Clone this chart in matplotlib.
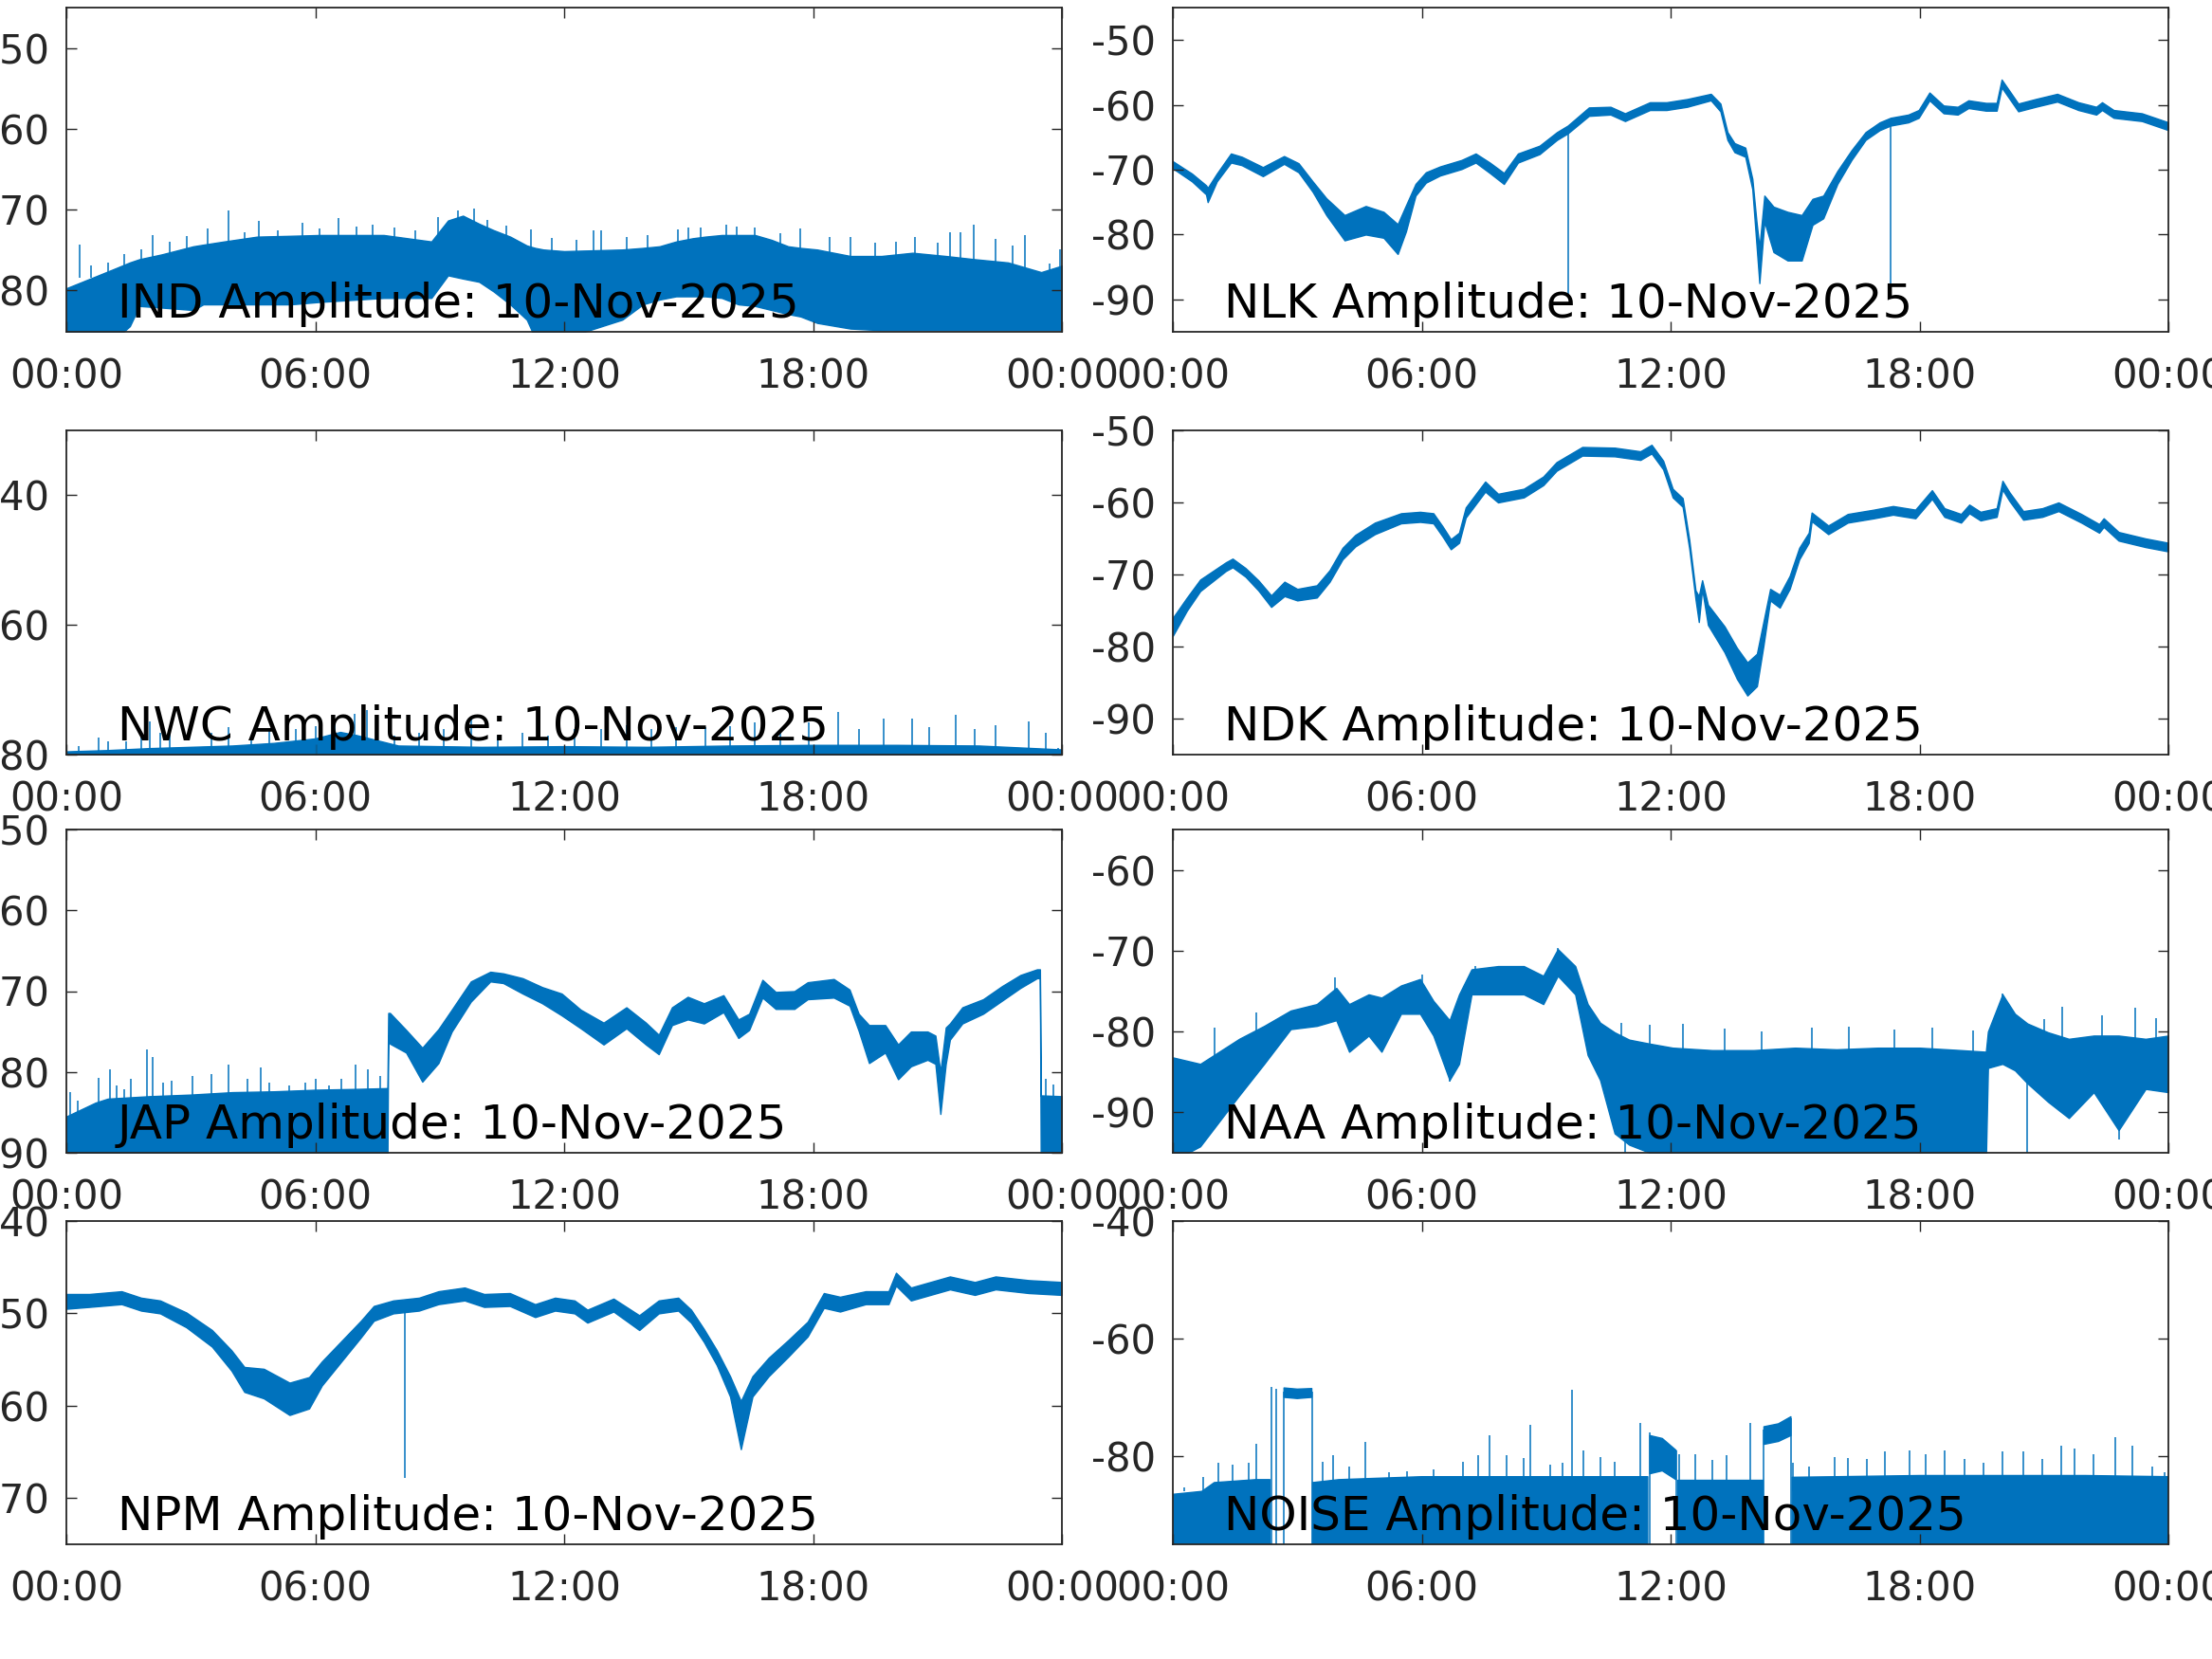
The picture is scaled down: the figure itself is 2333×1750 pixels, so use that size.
import numpy as np
import matplotlib
matplotlib.use("Agg")
import matplotlib.pyplot as plt

BLUE = "#0072BD"
DARK = "#262626"

plt.rcParams["font.family"] = ["DejaVu Sans"]
plt.rcParams["axes.unicode_minus"] = False

# x axis ticks (hours of the day)
hour_ticks = [0, 6, 12, 18, 24]
hour_labels = ["00:00", "06:00", "12:00", "18:00", "00:00"]
date_label = "10-Nov-2025"

# ---------------- IND ----------------
ind_hours = [0, 0.77, 1.2, 1.53, 1.76, 2.3, 3.06, 3.3, 3.8, 4.6, 5.4, 6.1, 7.65,
             8.8, 9.2, 9.56, 9.95, 10.3, 10.7, 11.1, 11.3, 11.5, 12, 13.4, 13.9,
             14.3, 14.7, 15.1, 15.4, 15.8, 16.2, 16.6, 17.0, 17.4, 17.7, 18.1,
             18.9, 19.65, 20.4, 21.2, 21.9, 22.7, 23.5, 24]
ind_low = [-86, -86, -86, -84.5, -82.0, -82.2, -82.5, -81.8, -81.8, -81.8, -81.8,
           -81.5, -81.0, -81.0, -78.2, -78.6, -79.0, -80.2, -81.8, -83.7, -86, -86,
           -86, -83.7, -81.8, -81.2, -80.8, -80.8, -80.8, -81.0, -81.8, -82.0,
           -82.5, -83.0, -83.3, -84.1, -84.8, -85.0, -85.0, -85.0, -85.0, -85.0,
           -85.0, -85.0]
ind_high = [-79.8, -78.2, -77.3, -76.6, -76.2, -75.6, -74.6, -74.4, -74.0, -73.4,
            -73.3, -73.2, -73.2, -74.0, -71.4, -70.8, -71.8, -72.6, -73.4, -74.5,
            -74.8, -75.0, -75.2, -75.0, -74.8, -74.6, -74.0, -73.6, -73.4, -73.2,
            -73.2, -73.2, -73.8, -74.6, -74.8, -75.0, -75.8, -75.8, -75.4, -75.8,
            -76.2, -76.6, -77.8, -77.0]
ind_spike_hours = [0.32, 0.6, 1.0, 1.4, 1.8, 2.07, 2.5, 2.9, 3.4, 3.9, 4.3, 4.63,
                   5.1, 5.7, 6.1, 6.56, 7.0, 7.38, 7.9, 8.4, 8.97, 9.43, 9.83,
                   10.15, 10.6, 11.2, 11.7, 12.3, 12.7, 12.9, 13.5, 14.0, 14.75,
                   15.0, 15.3, 15.9, 16.15, 16.6, 17.2, 17.7, 18.4, 18.9, 19.5,
                   20.0, 20.45, 21.0, 21.3, 21.55, 21.87, 22.4, 22.8, 23.1, 23.7,
                   23.96]
ind_spike_tops = [-74.4, -77.0, -76.6, -75.6, -75.0, -73.2, -74.0, -73.3, -72.4,
                  -70.2, -72.8, -71.5, -72.6, -71.7, -72.4, -71.1, -72.2, -71.9,
                  -72.3, -72.6, -71.0, -70.2, -69.9, -71.3, -72.0, -72.5, -73.6,
                  -73.8, -72.6, -72.6, -73.5, -73.2, -72.5, -72.3, -72.3, -71.9,
                  -72.2, -72.3, -73.0, -72.4, -73.5, -73.5, -74.2, -74.0, -73.4,
                  -74.2, -72.8, -72.8, -71.9, -73.7, -74.5, -73.2, -76.7, -75.0]
ind_spike_base = -78.5

# ---------------- NLK ----------------
nlk_hours = [0, 0.46, 0.8, 0.84, 1.06, 1.4, 1.66, 2.17, 2.68, 3.03, 3.37, 3.7,
             4.14, 4.65, 5.08, 5.42, 5.62, 5.85, 6.1, 6.44, 6.96, 7.3, 7.64, 7.98,
             8.32, 8.84, 9.26, 9.52, 10.03, 10.55, 10.9, 11.5, 11.9, 12.4, 12.97,
             13.2, 13.37, 13.54, 13.8, 13.97, 14.07, 14.14, 14.26, 14.48, 14.82,
             15.16, 15.42, 15.68, 16.02, 16.36, 16.7, 17.04, 17.3, 17.73, 17.98,
             18.24, 18.58, 18.92, 19.18, 19.6, 19.86, 19.98, 20.38, 20.8, 21.32,
             21.83, 22.26, 22.4, 22.68, 23.36, 24]
nlk_low = [-69.8, -71.8, -73.8, -75.0, -71.8, -68.9, -69.3, -71.0, -69.1, -70.4,
           -73.4, -77.0, -80.9, -80.0, -80.5, -83.0, -79.5, -74.0, -72.0, -70.9,
           -69.9, -68.9, -70.5, -72.2, -68.9, -67.6, -65.4, -64.4, -61.7, -61.5,
           -62.5, -60.8, -60.8, -60.3, -59.3, -61.0, -65.4, -67.3, -68.0, -73.0,
           -81.5, -87.5, -78.0, -82.7, -84.0, -84.0, -78.5, -77.5, -72.2, -68.5,
           -65.4, -63.9, -63.2, -62.7, -62.0, -59.3, -61.3, -61.5, -60.5, -60.9,
           -60.9, -57.3, -61.0, -60.3, -59.5, -60.8, -61.5, -60.8, -62.0, -62.5,
           -63.9]
nlk_high = [-68.7, -70.6, -72.4, -72.8, -70.6, -67.5, -68.0, -69.6, -67.9, -69.0,
            -71.8, -74.4, -77.0, -75.6, -76.5, -78.4, -75.5, -72.2, -70.4, -69.5,
            -68.5, -67.5, -68.9, -70.5, -67.5, -66.3, -64.2, -63.2, -60.4, -60.3,
            -61.3, -59.6, -59.6, -59.1, -58.3, -59.8, -64.2, -65.9, -66.6, -71.4,
            -78.0, -82.0, -74.0, -75.7, -76.5, -77.0, -74.5, -74.0, -70.2, -67.0,
            -64.2, -62.7, -62.0, -61.5, -60.8, -58.1, -60.1, -60.3, -59.3, -59.7,
            -59.7, -56.1, -59.8, -59.1, -58.3, -59.6, -60.3, -59.6, -60.8, -61.3,
            -62.7]
nlk_spike_hours = [9.52, 17.3]
nlk_spike_from = [-89.3, -89.3]
nlk_spike_to = [-64.0, -62.8]

# ---------------- NWC ----------------
nwc_hours = [0, 1, 2, 3, 4, 5, 6, 6.6, 7, 7.5, 8, 10, 12, 14, 16, 18, 20, 22, 24]
nwc_low = [-81] * 19
nwc_high = [-79.5, -79.3, -79.0, -78.8, -78.6, -78.2, -77.5, -76.5, -77.0, -77.8,
            -78.6, -78.8, -78.7, -78.8, -78.6, -78.5, -78.5, -78.6, -79.2]
nwc_spike_hours = [0.3, 0.78, 1.0, 1.45, 1.8, 2.0, 2.26, 2.5, 3.1, 3.5, 3.9, 4.45,
                   4.9, 5.54, 6.0, 6.47, 6.94, 7.25, 7.5, 7.9, 8.5, 9.1, 9.75,
                   10.4, 11.0, 11.6, 12.25, 12.9, 13.5, 14.1, 14.7, 15.4, 16.0,
                   16.6, 17.2, 17.9, 18.6, 19.1, 19.7, 20.4, 20.8, 21.45, 21.9,
                   22.4, 23.2, 23.6, 23.9]
nwc_spike_tops = [-78.7, -77.3, -78.0, -78.0, -76.6, -74.9, -76.6, -76.1, -78.9,
                  -76.6, -75.8, -77.6, -76.1, -76.1, -75.6, -74.6, -73.7, -73.2,
                  -74.6, -77.1, -76.6, -76.1, -74.6, -77.1, -76.6, -77.1, -76.1,
                  -76.1, -75.4, -76.1, -75.8, -75.8, -75.6, -75.1, -76.6, -75.1,
                  -73.4, -76.1, -74.4, -74.4, -75.8, -73.9, -76.1, -75.4, -74.9,
                  -76.6, -79.0]
nwc_spike_base = -80.5

# ---------------- NDK ----------------
ndk_hours = [0, 0.34, 0.66, 1.28, 1.44, 1.75, 2.06, 2.37, 2.69, 3.0, 3.47, 3.78,
             4.09, 4.4, 4.87, 5.5, 5.96, 6.28, 6.5, 6.7, 6.9, 7.06, 7.53, 7.84,
             8.46, 8.93, 9.25, 9.87, 10.65, 11.27, 11.54, 11.82, 12.05, 12.29,
             12.45, 12.6, 12.68, 12.76, 12.9, 13.3, 13.6, 13.85, 14.08, 14.24,
             14.4, 14.63, 14.87, 15.1, 15.33, 15.4, 15.8, 16.27, 16.9, 17.36,
             17.9, 18.3, 18.6, 19.0, 19.2, 19.47, 19.86, 20.0, 20.17, 20.5, 20.96,
             21.35, 21.9, 22.33, 22.44, 22.8, 23.45, 24]
ndk_low = [-78.5, -75.0, -72.3, -69.5, -69.0, -70.3, -72.2, -74.5, -73.0, -73.6,
           -73.2, -71.0, -67.9, -66.1, -64.4, -62.9, -62.7, -62.9, -64.7, -66.5,
           -65.6, -62.1, -58.5, -60.0, -59.3, -57.6, -55.6, -53.5, -53.6, -54.1,
           -53.2, -55.4, -59.3, -60.6, -66.4, -73.4, -76.6, -72.0, -77.0, -80.8,
           -84.5, -86.8, -85.5, -79.8, -73.6, -74.6, -72.0, -67.9, -65.6, -62.6,
           -64.4, -62.8, -62.2, -61.7, -62.2, -59.5, -62.0, -62.8, -61.5, -62.5,
           -62.0, -58.2, -59.8, -62.4, -62.0, -61.2, -62.8, -64.2, -63.4, -65.3,
           -66.2, -66.8]
ndk_high = [-76.0, -73.2, -70.7, -68.3, -67.8, -69.1, -70.8, -72.9, -71.0, -72.0,
            -71.5, -69.4, -66.3, -64.5, -62.8, -61.5, -61.3, -61.5, -63.3, -65.1,
            -64.2, -60.7, -57.1, -58.8, -58.1, -56.4, -54.4, -52.3, -52.4, -52.9,
            -52.0, -54.2, -58.1, -59.4, -65.2, -72.2, -73.0, -70.8, -74.2, -77.2,
            -80.2, -82.2, -81.0, -76.5, -72.0, -72.8, -70.2, -66.3, -64.2, -61.4,
            -63.2, -61.6, -61.0, -60.5, -61.0, -58.3, -60.8, -61.6, -60.3, -61.3,
            -60.8, -57.0, -58.6, -61.2, -60.8, -60.0, -61.6, -63.0, -62.2, -64.1,
            -65.0, -65.6]

# ---------------- JAP ----------------
jap_hours = [0, 0.7, 1, 2, 3, 4, 5, 6, 7, 7.74, 7.76, 7.8, 8.19, 8.58, 8.97, 9.29,
             9.75, 10.22, 10.53, 11.0, 11.47, 11.94, 12.4, 12.95, 13.5, 13.97,
             14.28, 14.6, 14.98, 15.37, 15.84, 16.2, 16.46, 16.78, 17.1, 17.55,
             17.87, 18.5, 18.88, 19.1, 19.35, 19.74, 20.05, 20.36, 20.76, 20.95,
             21.07, 21.2, 21.3, 21.6, 22.1, 22.55, 23.0, 23.4, 23.47, 23.49, 24]
jap_low = [-91, -91, -91, -91, -91, -91, -91, -91, -91, -91, -75.5, -76.5, -77.6,
           -81.2, -78.9, -75.0, -71.3, -68.8, -69.0, -70.3, -71.5, -73.0, -74.6,
           -76.6, -74.6, -76.6, -77.8, -74.2, -73.5, -74.0, -72.6, -75.8, -74.8,
           -70.8, -72.2, -72.2, -71.0, -70.8, -71.8, -74.9, -78.9, -77.6, -80.9,
           -79.3, -78.5, -79.0, -85.2, -79.0, -76.0, -74.0, -72.8, -71.2, -69.6,
           -68.4, -68.4, -91, -91]
jap_high = [-85.5, -83.8, -83.3, -83.0, -82.8, -82.5, -82.4, -82.2, -82.1, -82.0,
            -72.7, -72.7, -74.8, -77.0, -74.7, -72.3, -68.8, -67.6, -67.8, -68.4,
            -69.5, -70.3, -72.3, -73.9, -72.0, -73.9, -75.4, -72.0, -70.7, -71.5,
            -70.5, -73.5, -72.8, -68.6, -70.1, -70.0, -68.9, -68.5, -69.8, -72.8,
            -74.2, -74.2, -76.6, -75.0, -75.0, -75.5, -80.0, -74.5, -74.0, -72.0,
            -71.0, -69.4, -68.0, -67.3, -67.3, -82.9, -83.0]
jap_spike_hours = [0.08, 0.28, 0.78, 1.06, 1.2, 1.4, 1.56, 1.95, 2.08, 2.34, 2.54,
                   3.04, 3.5, 3.9, 4.37, 4.68, 4.9, 5.38, 5.77, 6.0, 6.32, 6.63,
                   6.98, 7.26, 7.57, 23.6, 23.8]
jap_spike_tops = [-82.5, -83.5, -80.7, -79.7, -81.7, -82.1, -80.9, -77.2, -78.2,
                  -81.3, -81.1, -80.5, -80.3, -79.1, -80.9, -79.5, -81.3, -81.7,
                  -81.3, -80.9, -81.7, -80.9, -79.1, -79.7, -80.5, -80.8, -81.5]
jap_spike_base = -86.0

# ---------------- NAA ----------------
naa_hours = [0, 0.66, 1.6, 2.2, 2.84, 3.47, 3.94, 4.25, 4.72, 5.03, 5.5, 5.96,
             6.28, 6.67, 6.9, 7.2, 7.84, 8.46, 8.93, 9.28, 9.7, 10.0, 10.3, 10.65,
             11.0, 11.5, 12.05, 13, 14, 15, 16, 17, 18, 19, 19.6, 19.65, 20.0,
             20.3, 20.6, 21.1, 21.6, 22.2, 22.8, 23.45, 24]
naa_low = [-96, -94.2, -87.9, -84.0, -79.7, -79.3, -78.6, -82.5, -80.5, -82.5,
           -77.8, -77.8, -80.5, -86.0, -84.0, -75.4, -75.4, -75.4, -76.6, -73.1,
           -75.4, -82.9, -86.0, -92.6, -94.0, -95.0, -96, -96, -96, -96, -96, -96,
           -96, -96, -96, -84.5, -84.0, -84.8, -86.4, -88.7, -90.7, -87.5, -92.2,
           -87.1, -87.5]
naa_high = [-83.2, -84.0, -80.9, -79.3, -77.4, -76.6, -74.6, -76.6, -75.4, -75.8,
            -74.3, -73.5, -76.2, -78.6, -75.4, -72.3, -71.9, -71.9, -73.1, -69.8,
            -71.9, -76.6, -78.9, -80.1, -81.0, -81.5, -82.0, -82.3, -82.3, -82.0,
            -82.2, -82.0, -82.0, -82.3, -82.5, -80.0, -75.4, -77.8, -79.0, -80.1,
            -80.9, -80.5, -80.5, -80.9, -80.5]
naa_spike_hours = [1.0, 2.0, 3.9, 6.0, 7.3, 9.28, 10.8, 11.5, 12.3, 13.3, 14.2,
                   15.4, 16.3, 17.4, 18.3, 19.3, 20.0, 21.0, 21.45, 22.4, 23.2,
                   23.7, 6.67, 10.9, 20.6, 22.8]
naa_spike_from = [-84.0, -81.0, -77.0, -76.0, -74.0, -72.0, -84.0, -84.0, -84.0,
                  -84.0, -84.0, -84.0, -84.0, -84.0, -84.0, -84.0, -78.0, -84.0,
                  -84.0, -84.0, -84.0, -84.0, -84.0, -84.0, -84.0, -88.0]
naa_spike_to = [-79.5, -77.6, -73.3, -73.0, -71.9, -69.7, -78.9, -79.2, -79.0,
                -79.6, -80.0, -79.5, -79.4, -79.8, -79.5, -79.9, -75.3, -78.5,
                -76.9, -78.0, -77.0, -78.3, -86.2, -96.0, -96.0, -93.3]

# ---------------- NPM ----------------
npm_hours = [0, 0.55, 1.33, 1.8, 2.26, 2.89, 3.51, 3.98, 4.29, 4.76, 5.38, 5.85,
             6.16, 6.63, 7.1, 7.41, 7.88, 8.5, 8.97, 9.6, 10.07, 10.69, 11.3,
             11.78, 12.25, 12.56, 13.19, 13.81, 14.28, 14.75, 15.06, 15.37, 15.68,
             16.0, 16.26, 16.54, 16.93, 17.4, 17.87, 18.26, 18.65, 19.27, 19.82,
             20.0, 20.36, 21.3, 21.9, 22.4, 23.2, 24]
npm_low = [-49.5, -49.3, -49.0, -49.7, -50.0, -51.5, -53.6, -56.2, -58.5, -59.2,
           -61.0, -60.3, -57.8, -55.2, -52.6, -50.8, -50.0, -49.7, -49.0, -48.6,
           -49.3, -49.2, -50.4, -49.7, -50.0, -51.0, -49.8, -51.8, -50.0, -49.7,
           -51.0, -53.1, -55.6, -59.0, -64.7, -59.0, -56.8, -54.7, -52.5, -49.4,
           -49.8, -49.0, -49.0, -47.0, -48.6, -47.4, -48.0, -47.4, -47.8, -48.0]
npm_high = [-47.9, -47.9, -47.6, -48.3, -48.6, -49.9, -51.8, -54.0, -55.8, -56.0,
            -57.5, -56.9, -55.2, -53.0, -50.8, -49.2, -48.6, -48.3, -47.6, -47.2,
            -47.9, -47.8, -49.0, -48.3, -48.6, -49.6, -48.4, -50.2, -48.6, -48.3,
            -49.6, -51.7, -54.0, -56.8, -59.5, -56.8, -54.8, -52.9, -50.9, -47.8,
            -48.2, -47.6, -47.6, -45.6, -47.2, -46.0, -46.6, -46.0, -46.4, -46.6]
npm_spike_hours = [8.16]
npm_spike_from = [-67.8]
npm_spike_to = [-49.3]

# ---------------- NOISE ----------------
noise_hours = [0, 0.7, 1.0, 2.0, 2.34, 2.35, 2.67, 2.68, 3.0, 3.35, 3.36, 3.37,
               4.0, 6.0, 8.0, 9.0, 11.45, 11.47, 11.49, 11.5, 11.8, 12.13, 12.14,
               12.15, 12.16, 13.9, 14.22, 14.23, 14.24, 14.25, 14.6, 14.9, 14.91,
               14.92, 14.93, 16, 18, 20, 22, 24]
noise_low = [-96, -96, -96, -96, -96, np.nan, np.nan, -70.0, -70.2, -70.0, np.nan,
             -96, -96, -96, -96, -96, -96, np.nan, np.nan, -83.0, -82.5, -84.0,
             np.nan, np.nan, -96, -96, -96, np.nan, np.nan, -78.0, -77.5, -76.5,
             np.nan, np.nan, -96, -96, -96, -96, -96, -96]
noise_high = [-86.5, -86.0, -84.5, -84.0, -84.0, np.nan, np.nan, -68.4, -68.6,
              -68.5, np.nan, -84.5, -84.0, -83.5, -83.5, -83.5, -83.5, np.nan,
              np.nan, -76.5, -77.0, -79.0, np.nan, np.nan, -84.0, -84.0, -84.0,
              np.nan, np.nan, -75.0, -74.5, -73.3, np.nan, np.nan, -83.6, -83.5,
              -83.3, -83.3, -83.3, -83.5]
noise_spike_hours = [0.27, 0.73, 1.1, 1.44, 1.83, 2.0, 2.38, 2.5, 2.68, 3.36,
                     3.62, 3.86, 4.25, 4.64, 5.2, 5.65, 6.28, 7.0, 7.37, 7.64,
                     8.04, 8.46, 8.62, 9.1, 9.4, 9.63, 9.9, 10.3, 10.65, 11.27,
                     11.49, 12.14, 12.2, 12.6, 13.0, 13.35, 13.93, 14.24, 14.91,
                     14.94, 15.33, 15.96, 16.27, 16.74, 17.16, 17.75, 18.14, 18.6,
                     19.08, 19.55, 20.0, 20.5, 20.95, 21.42, 21.73, 22.2, 22.72,
                     23.14, 23.6, 23.9]
noise_spike_from = [-86, -86, -86, -86, -86, -86, -96, -96, -96, -96,
                    -86, -86, -86, -86, -86, -86, -86, -86, -86, -86,
                    -86, -86, -86, -86, -86, -86, -86, -86, -86, -86,
                    -96, -96, -86, -86, -86, -86, -86, -96, -96, -86,
                    -86, -86, -86, -86, -86, -86, -86, -86, -86, -86,
                    -86, -86, -86, -86, -86, -86, -86, -86, -86, -86]
noise_spike_to = [-85.4, -83.6, -81.1, -81.4, -81.1, -77.9, -68.3, -68.5, -69.0,
                  -69.0, -80.9, -79.8, -81.7, -77.6, -82.8, -82.5, -82.3, -80.9,
                  -79.8, -76.5, -79.8, -80.3, -74.7, -81.4, -81.1, -68.7, -79.0,
                  -80.1, -80.9, -74.4, -76.0, -79.0, -79.6, -79.6, -80.7, -79.8,
                  -74.4, -75.5, -73.5, -81.1, -81.7, -80.1, -80.3, -80.5, -79.2,
                  -79.0, -79.6, -79.0, -80.5, -81.1, -79.2, -79.2, -80.5, -78.2,
                  -78.7, -79.6, -76.7, -78.2, -81.7, -82.8]

# panel layout (pixels of the 2333 x 1750 canvas)
W, H = 2333, 1750
left_x, right_x, ax_w = 70, 1237, 1050
rows = [(8, 350), (454, 796), (875, 1216), (1288, 1629)]


def rect(x0, row):
    top, bottom = rows[row]
    return [x0 / W, 1 - bottom / H, ax_w / W, (bottom - top) / H]


panels = [
    ("IND", rect(left_x, 0), (-85.2, -45), [-80, -70, -60, -50],
     ind_hours, ind_low, ind_high),
    ("NLK", rect(right_x, 0), (-95, -45), [-90, -80, -70, -60, -50],
     nlk_hours, nlk_low, nlk_high),
    ("NWC", rect(left_x, 1), (-80, -30), [-80, -60, -40],
     nwc_hours, nwc_low, nwc_high),
    ("NDK", rect(right_x, 1), (-95, -50), [-90, -80, -70, -60, -50],
     ndk_hours, ndk_low, ndk_high),
    ("JAP", rect(left_x, 2), (-90, -50), [-90, -80, -70, -60, -50],
     jap_hours, jap_low, jap_high),
    ("NAA", rect(right_x, 2), (-95, -55), [-90, -80, -70, -60],
     naa_hours, naa_low, naa_high),
    ("NPM", rect(left_x, 3), (-75, -40), [-70, -60, -50, -40],
     npm_hours, npm_low, npm_high),
    ("NOISE", rect(right_x, 3), (-95, -40), [-80, -60, -40],
     noise_hours, noise_low, noise_high),
]

spikes = {
    "IND": (ind_spike_hours, ind_spike_base, ind_spike_tops),
    "NLK": (nlk_spike_hours, nlk_spike_from, nlk_spike_to),
    "NWC": (nwc_spike_hours, nwc_spike_base, nwc_spike_tops),
    "JAP": (jap_spike_hours, jap_spike_base, jap_spike_tops),
    "NAA": (naa_spike_hours, naa_spike_from, naa_spike_to),
    "NPM": (npm_spike_hours, npm_spike_from, npm_spike_to),
    "NOISE": (noise_spike_hours, noise_spike_from, noise_spike_to),
}

fig = plt.figure(figsize=(W / 100, H / 100), dpi=100)

for name, r, ylim, yticks, hours, low, high in panels:
    ax = fig.add_axes(r)
    ax.fill_between(hours, low, high, color=BLUE, lw=1.0, edgecolor=BLUE)
    if name in spikes:
        sh, s0, s1 = spikes[name]
        ax.vlines(sh, s0, s1, color=BLUE, lw=1.1)

    ax.set_xlim(0, 24)
    ax.set_ylim(*ylim)
    ax.set_xticks(hour_ticks)
    ax.set_xticklabels(hour_labels)
    ax.set_yticks(yticks)
    ax.set_yticklabels([str(v) for v in yticks])
    ax.tick_params(direction="in", length=8, width=1.0, colors=DARK,
                   labelsize=30, top=True, right=True)
    ax.tick_params(axis="x", pad=19)
    ax.tick_params(axis="y", pad=13)
    for sp in ax.spines.values():
        sp.set_color(DARK)
        sp.set_linewidth(1.3)

    ax.text(0.051, 0.044, f"{name} Amplitude: {date_label}",
            transform=ax.transAxes, fontsize=36, color="black",
            ha="left", va="baseline")

fig.savefig("out.png", dpi=100)
